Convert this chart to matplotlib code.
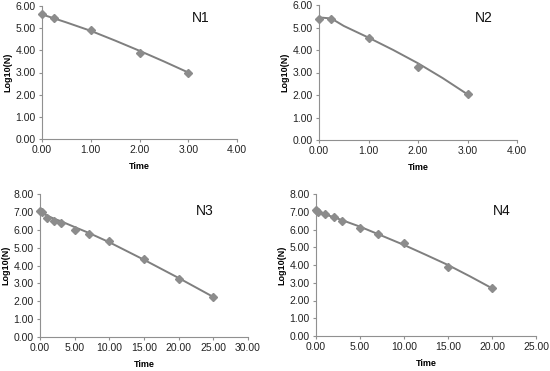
import matplotlib
matplotlib.use("Agg")
import matplotlib.pyplot as plt

plt.rcParams['font.family'] = ['Liberation Sans', 'DejaVu Sans']

# observed points
n1_t = [0, 0.25, 1, 2, 3]
n1_y = [5.63, 5.45, 4.91, 3.89, 3.00]
n2_t = [0, 0.25, 1, 2, 3]
n2_y = [5.36, 5.36, 4.55, 3.26, 2.03]
n3_t = [0, 0.25, 1, 2, 3, 5, 7, 10, 15, 20, 25]
n3_y = [7.05, 7.00, 6.64, 6.47, 6.36, 5.98, 5.79, 5.36, 4.36, 3.27, 2.24]
n4_t = [0, 0.25, 1, 2, 3, 5, 7, 10, 15, 20]
n4_y = [7.10, 6.97, 6.85, 6.69, 6.50, 6.07, 5.73, 5.26, 3.87, 2.69]

# fitted curves
f1_t = [0, 0.5, 1, 1.5, 2, 2.5, 3]
f1_y = [5.62, 5.26, 4.88, 4.44, 3.98, 3.50, 3.00]
f2_t = [0, 0.25, 0.5, 1, 1.5, 2, 2.5, 3]
f2_y = [5.45, 5.40, 5.07, 4.55, 4.00, 3.41, 2.75, 2.03]
f3_t = [0, 1, 2, 3, 5, 7, 10, 15, 20, 25]
f3_y = [7.00, 6.80, 6.62, 6.48, 6.15, 5.83, 5.30, 4.32, 3.30, 2.24]
f4_t = [0, 1, 2, 3, 5, 7, 10, 12.5, 15, 17.5, 20]
f4_y = [7.00, 6.85, 6.70, 6.52, 6.16, 5.75, 5.13, 4.57, 4.00, 3.36, 2.69]

names = ['N1', 'N2', 'N3', 'N4']
xmax = [4, 4, 30, 25]
xstep = [1, 1, 5, 5]
ymax = [6, 6, 8, 8]

W, H = 550, 371
# axes boxes in pixels: left, top, right, bottom
boxes = [(42, 6, 237, 139), (319, 5, 517, 140), (40, 194, 248, 337), (316, 194, 536, 336)]
title_pos = [(201, 18), (484, 18), (205, 211), (502, 211)]

fig = plt.figure(figsize=(W / 100, H / 100), dpi=100)

data = [(n1_t, n1_y, f1_t, f1_y), (n2_t, n2_y, f2_t, f2_y),
        (n3_t, n3_y, f3_t, f3_y), (n4_t, n4_y, f4_t, f4_y)]

for i, (pt, py, ft, fy) in enumerate(data):
    l, t, r, b = boxes[i]
    ax = fig.add_axes([l / W, 1 - b / H, (r - l) / W, (b - t) / H])
    ax.plot(ft, fy, color='#7f7f7f', lw=1.4, zorder=2, solid_joinstyle='round')
    ax.plot(pt, py, 'D', color='#8c8c8c', ms=4.2, mec='#8c8c8c', zorder=3, clip_on=False)
    ax.set_xlim(0, xmax[i])
    ax.set_ylim(0, ymax[i])
    xt = [k * xstep[i] for k in range(int(xmax[i] / xstep[i]) + 1)]
    ax.set_xticks(xt)
    ax.set_xticklabels([f'{v:.2f}' for v in xt])
    yt = list(range(0, ymax[i] + 1))
    ax.set_yticks(yt)
    ax.set_yticklabels([f'{v:.2f}' for v in yt])
    for s in ['top', 'right']:
        ax.spines[s].set_visible(False)
    for s in ['left', 'bottom']:
        ax.spines[s].set_color('#909090')
        ax.spines[s].set_linewidth(0.8)
    ax.tick_params(direction='out', length=2.5, width=0.8, color='#909090',
                   labelsize=7.5, labelcolor='#222222', pad=2)
    ax.set_xlabel('Time', fontsize=6.5, fontweight='bold', labelpad=5)
    ax.set_ylabel('Log10(N)', fontsize=6.5, fontweight='bold', labelpad=2)
    fig.text(title_pos[i][0] / W, 1 - title_pos[i][1] / H, names[i],
             fontsize=10, ha='center', va='center', color='#111111')

fig.savefig('out.png', dpi=100)
